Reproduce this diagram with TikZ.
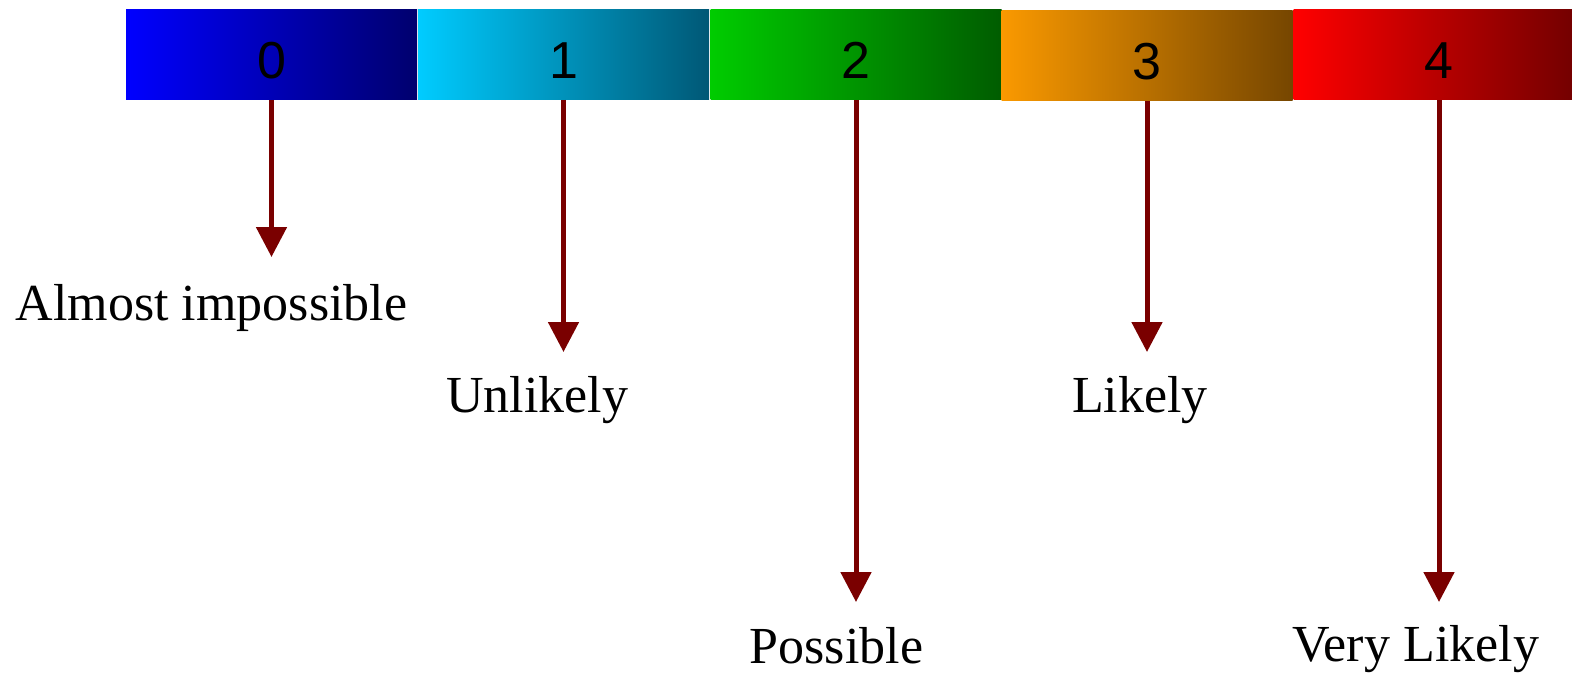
\documentclass[tikz,border=0pt]{standalone}
\usepackage{fontspec}
\setmainfont{Liberation Serif}
\newfontfamily\digitfont{Liberation Sans}
\usetikzlibrary{arrows.meta}

\definecolor{arrowred}{RGB}{122,0,0}
\definecolor{c0l}{RGB}{0,0,255}     \definecolor{c0r}{RGB}{0,0,110}
\definecolor{c1l}{RGB}{0,204,255}   \definecolor{c1r}{RGB}{0,88,118}
\definecolor{c2l}{RGB}{0,204,0}     \definecolor{c2r}{RGB}{0,92,0}
\definecolor{c3l}{RGB}{250,153,0}   \definecolor{c3r}{RGB}{118,70,0}
\definecolor{c4l}{RGB}{255,0,0}     \definecolor{c4r}{RGB}{110,0,0}

\tikzset{
  scalebox/.style 2 args={draw=none, outer sep=0pt, inner sep=0pt,
    minimum width=291pt, minimum height=90pt,
    left color=#1, right color=#2,
    text height=48pt, text depth=0pt,
    font=\digitfont\fontsize{52}{60}\selectfont},
  lvl/.style={anchor=base, inner sep=0pt, font=\fontsize{52}{60}\selectfont},
  pointer/.style={draw=arrowred, line width=5pt,
    -{Triangle[width=30pt,length=30pt]}, arrowred}
}

\begin{document}
\begin{tikzpicture}[x=1pt,y=-1pt]
  \useasboundingbox (0,0) rectangle (1572,674);
  \clip (0,0) rectangle (1572,674);

  % colour scale
  \node[scalebox={c0l}{c0r}] (b0) at (271.5,55) {0};
  \node[scalebox={c1l}{c1r}] (b1) at (563.5,55) {1};
  \node[scalebox={c2l}{c2r}] (b2) at (856,55)   {2};
  \node[scalebox={c3l}{c3r}] (b3) at (1147,56)  {3};
  \node[scalebox={c4l}{c4r}] (b4) at (1439,55)  {4};

  % arrow tips
  \coordinate (t0) at (b0.south |- 0,257);
  \coordinate (t1) at (b1.south |- 0,352);
  \coordinate (t2) at (b2.south |- 0,602);
  \coordinate (t3) at (b3.south |- 0,352);
  \coordinate (t4) at (b4.south |- 0,602);

  % level names
  \node[lvl] (l0) at (211.5,320) {Almost impossible};
  \node[lvl] (l1) at (537,412)   {Unlikely};
  \node[lvl] (l2) at (836.5,663) {Possible};
  \node[lvl] (l3) at (1140,412)  {Likely};
  \node[lvl] (l4) at (1415.5,661) {Very Likely};

  % pointers
  \draw[pointer] (b0.south) -- (t0);
  \draw[pointer] (b1.south) -- (t1);
  \draw[pointer] (b2.south) -- (t2);
  \draw[pointer] (b3.south) -- (t3);
  \draw[pointer] (b4.south) -- (t4);
\end{tikzpicture}
\end{document}
